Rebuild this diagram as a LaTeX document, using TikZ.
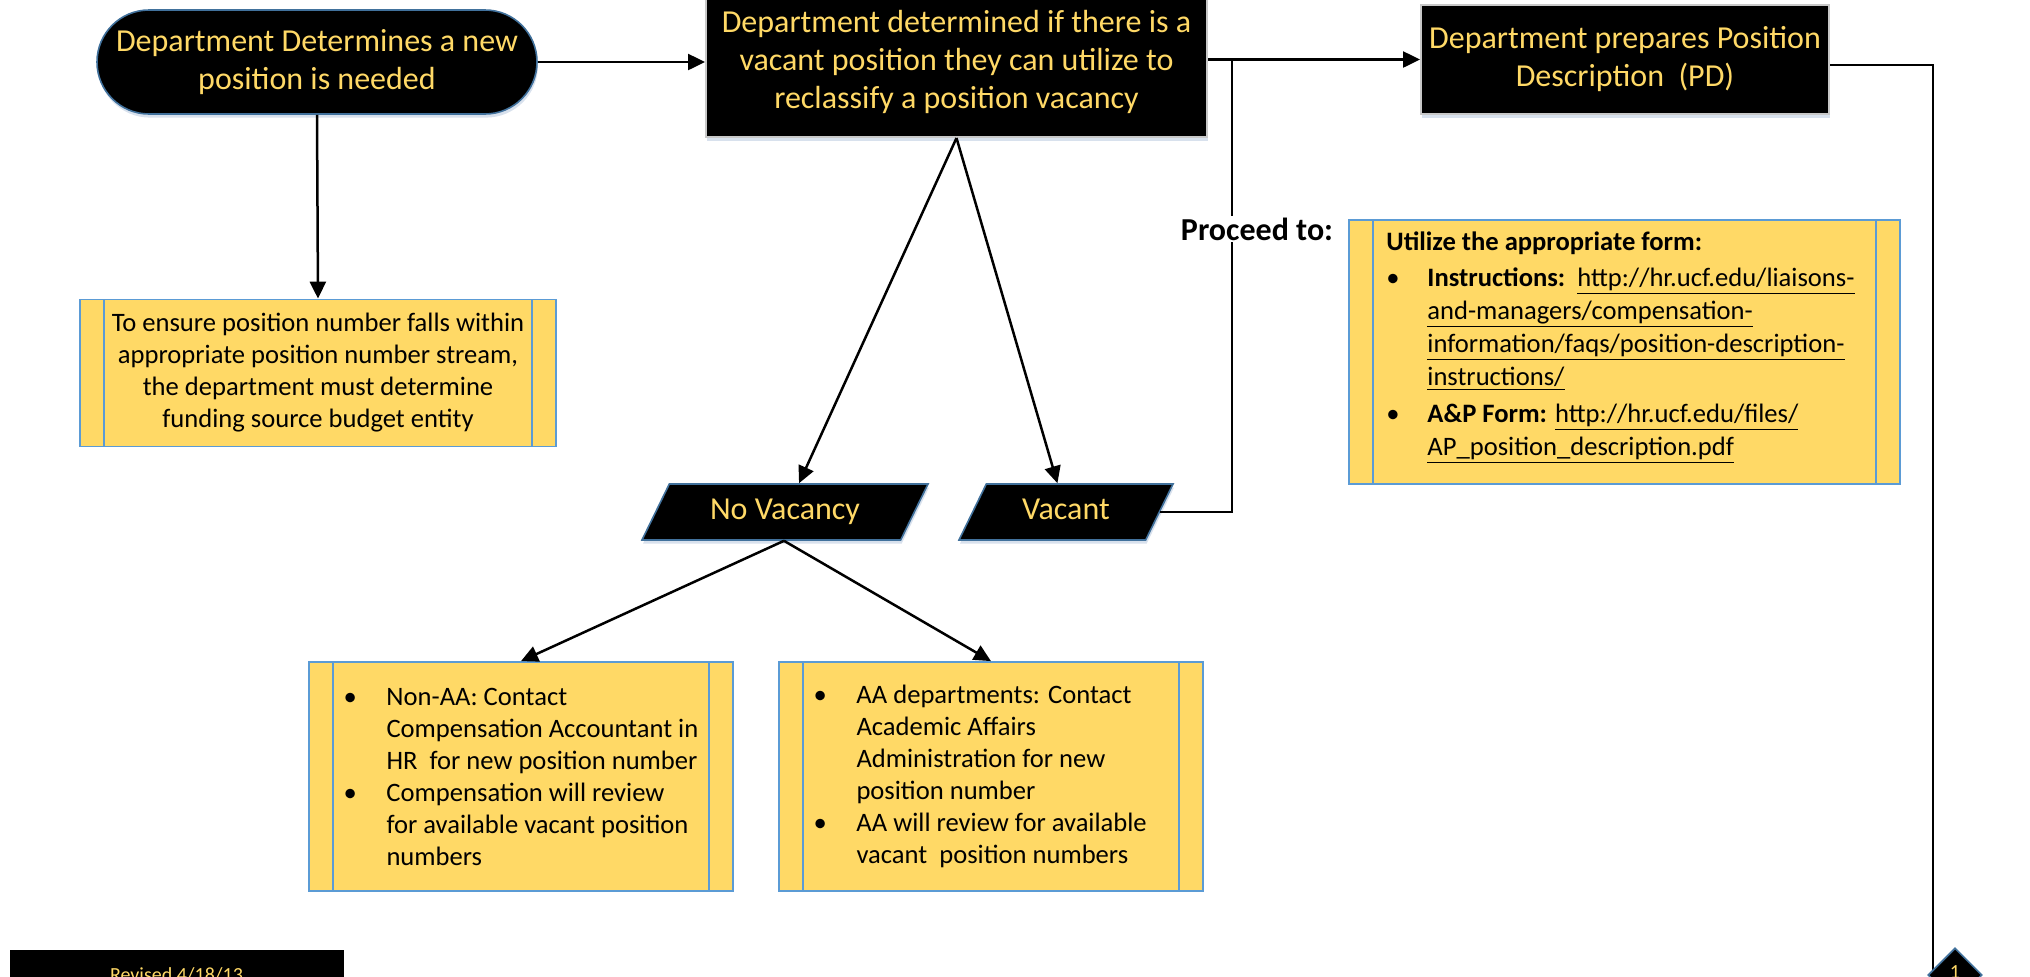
\documentclass[tikz,border=0pt]{standalone}
\usepackage{fontspec}
\setmainfont{Carlito}
\usetikzlibrary{shapes.geometric,shapes.misc,arrows.meta,shadows,calc,backgrounds}

\definecolor{goldfill}{HTML}{FFD966}
\definecolor{goldtext}{HTML}{FFD966}
\definecolor{rimblue}{HTML}{41719C}
\definecolor{noteblue}{HTML}{5B9BD5}
\definecolor{softshade}{HTML}{A9BCD6}
\definecolor{boxgray}{HTML}{C8C8C8}

% bullet and hanging indent for the link list and the two note lists
\newcommand\bul{\makebox[20.5pt][l]{\textbullet}}
\newcommand\ind{\hspace*{20.5pt}}
\newcommand\lbul{\makebox[21.5pt][l]{\textbullet}}
\newcommand\lind{\hspace*{21.5pt}}

\tikzset{
  yellowfont/.style={font=\fontsize{16}{19}\selectfont},
  darkshadow/.style={drop shadow={shadow xshift=0.5pt, shadow yshift=-1.8pt, opacity=0.45, fill=softshade}},
  termbox/.style={rounded rectangle, fill=black, draw=rimblue, line width=0.8pt,
    text=goldtext, align=center, yellowfont, minimum width=220pt, minimum height=52pt,
    inner sep=0pt, darkshadow},
  darkbox/.style={rectangle, fill=black, draw=boxgray, line width=1pt, text=goldtext,
    align=center, yellowfont, inner sep=0pt, darkshadow},
  databox/.style={trapezium, trapezium left angle=64, trapezium right angle=116,
    trapezium stretches body, fill=black, draw=rimblue, line width=0.8pt, text=goldtext,
    yellowfont, text height=11pt, text depth=3.5pt, inner xsep=0pt, inner ysep=6.75pt,
    minimum height=28pt, darkshadow},
  notebox/.style={rectangle, fill=goldfill, draw=noteblue, line width=0.9pt, inner sep=0pt,
    path picture={
      \draw[noteblue, line width=0.9pt]
        ([xshift=12pt]path picture bounding box.north west) -- ([xshift=12pt]path picture bounding box.south west)
        ([xshift=-12pt]path picture bounding box.north east) -- ([xshift=-12pt]path picture bounding box.south east);
    }},
  notetext/.style={text=black, align=left, inner sep=0pt, font=\fontsize{13.3}{16}\selectfont},
  flow/.style={line width=1.25pt, -{Triangle[length=8.5pt,width=8pt]}},
  link/.style={line width=1.25pt},
}

\begin{document}
\begin{tikzpicture}[x=0.5pt,y=-0.5pt]
\useasboundingbox (0,0) rectangle (2030,976);

% process steps
\node[termbox] (start) at (317,62) {Department Determines a new\\position is needed};
\node[darkbox, minimum width=250.5pt, minimum height=75pt] (check) at (956.5,62)
  {Department determined if there is a\\vacant position they can utilize to\\reclassify a position vacancy};
\node[darkbox, minimum width=204pt, minimum height=54.5pt] (prep) at (1625,59.5)
  {Department prepares Position\\Description\ \ (PD)};

% funding note
\node[notebox, minimum width=238pt, minimum height=73.5pt, notetext, align=center] (fund) at (318,373)
  {To ensure position number falls within\\appropriate position number stream,\\the department must determine\\funding source budget entity};

% form links
\node[notebox, minimum width=275.5pt, minimum height=132pt] (form) at (1624.5,352) {};
\node[notetext, font=\fontsize{13.3}{16.6}\selectfont, anchor=north west] (formtext) at (1386,231)
  {\textbf{Utilize the appropriate form:}\\[1.5pt]
   \bul\textbf{Instructions:}\ \ \underline{http://hr.ucf.edu/liaisons-}\\
   \ind\underline{and-managers/compensation-}\\
   \ind\underline{information/faqs/position-description-}\\
   \ind\underline{instructions/}\\[1.5pt]
   \bul\textbf{A\&P Form:} \underline{http://hr.ucf.edu/files/}\\
   \ind\underline{AP\_position\_description.pdf}};

% outcomes
\node[databox, minimum width=143pt] (novac) at (785,512) {No Vacancy};
\node[databox, minimum width=107pt] (vac) at (1066,512) {Vacant};

% contact notes
\node[notebox, minimum width=212pt, minimum height=114.5pt] (nonaa) at (521,776.5) {};
\node[notetext, anchor=west] (nonaatext) at ($(nonaa.west)+(35,0)$)
  {\lbul Non-AA: Contact\\
   \lind Compensation Accountant in\\
   \lind HR\ \ for new position number\\
   \lbul Compensation will review\\
   \lind for available vacant position\\
   \lind numbers};
\node[notebox, minimum width=212pt, minimum height=114.5pt] (aa) at (991,776.5) {};
\node[notetext, anchor=west] (aatext) at ($(aa.west)+(35,0)$)
  {\lbul AA departments: Contact\\
   \lind Academic Affairs\\
   \lind Administration for new\\
   \lind position number\\
   \lbul AA will review for available\\
   \lind vacant\ \ position numbers};

% footer and off-page connector
\node[fill=black, text=goldtext, font=\fontsize{10}{12}\selectfont, minimum width=167pt,
  inner xsep=0pt, inner ysep=9pt, text height=6.5pt, text depth=2pt, anchor=north] (rev)
  at (176.5,950) {Revised 4/18/13};
\node[diamond, aspect=1, fill=black, draw=rimblue, line width=0.8pt, minimum size=27pt,
  inner sep=0pt, text=goldtext, font=\fontsize{10}{12}\selectfont, text height=6.5pt,
  text depth=3pt, darkshadow] (off) at (1955,975) {1};

% connectors
\coordinate (split) at (1232,60);
\coordinate (bend) at (1933,65);
\coordinate (nvbase) at ($(novac.bottom left corner)!0.55!(novac.bottom right corner)$);
\draw[flow] (start.east) -- (start.east -| check.west);
\draw[flow] (start.south) -- (fund.north);
\draw[flow] (check.east |- prep.west) -- (prep.west);
\draw[link] ($(vac.top right corner)!0.5!(vac.bottom right corner)$) -| (split);
\draw[flow] (check.south) -- ($(novac.top left corner)!0.5!(novac.top right corner)$);
\draw[flow] (check.south) -- ($(vac.top left corner)!0.38!(vac.top right corner)$);
\draw[flow] (nvbase) -- (nonaa.north);
\draw[flow] (nvbase) -- (aa.north);
\begin{scope}[on background layer]
  \draw[link] (prep.east |- bend) -- (bend) -- (bend |- off.center);
\end{scope}

% label over the vertical link
\node[fill=white, inner xsep=0pt, inner ysep=1pt, font=\bfseries\fontsize{16}{19}\selectfont] (proceed)
  at (1257,229) {Proceed to:};
\end{tikzpicture}
\end{document}
